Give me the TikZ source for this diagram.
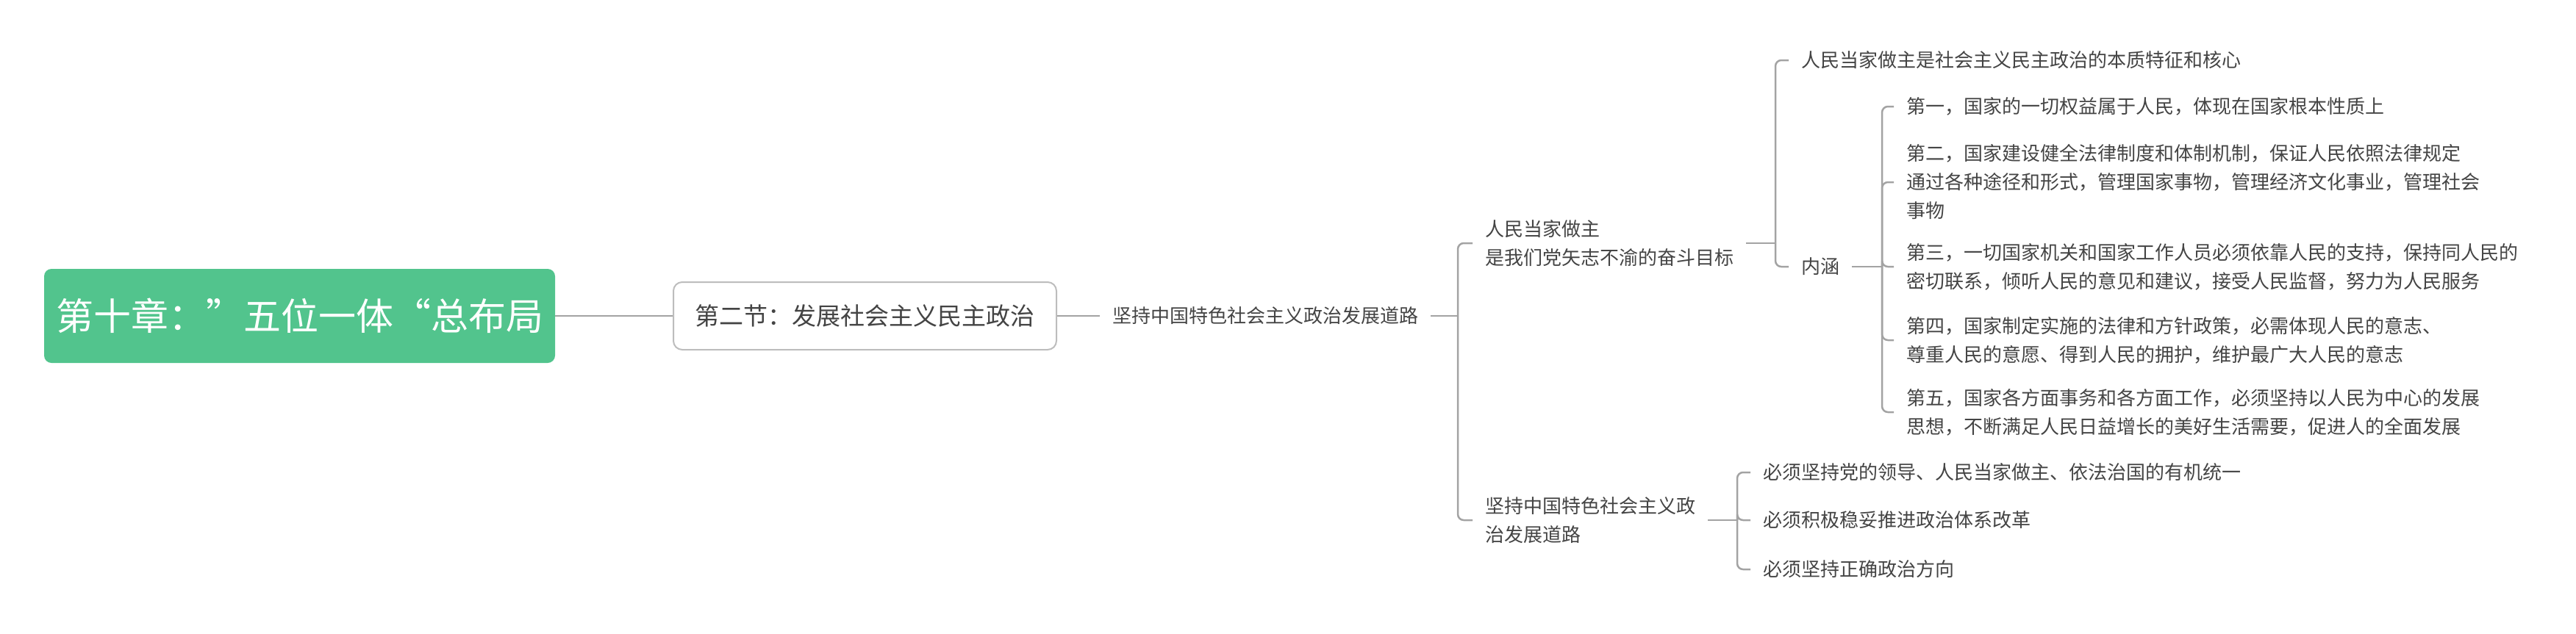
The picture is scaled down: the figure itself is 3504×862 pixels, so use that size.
\documentclass[tikz,border=0pt]{standalone}
\usepackage{fontspec}
\setmainfont{Noto Sans CJK SC}

\definecolor{rootgreen}{HTML}{52C48D}
\definecolor{linkgray}{HTML}{A3A3A3}
\definecolor{boxgray}{HTML}{BDBDBD}
\definecolor{textgray}{HTML}{444444}

\tikzset{
  topic/.style={anchor=west,inner xsep=17pt,inner ysep=3pt,align=left,
    text=textgray,font=\fontsize{26}{39}\selectfont},
  link/.style={draw=linkgray,line width=2.5pt,rounded corners=8pt},
}

\begin{document}
\begin{tikzpicture}[x=1pt,y=-1pt]
  \useasboundingbox (0,0) rectangle (3504,862);
  % chapter and section
  \node[fill=rootgreen,rounded corners=10pt,inner xsep=0pt,minimum width=695pt,minimum height=128pt,
    text=white,font=\fontsize{51}{60}\selectfont] (R) at (407.5,430) {第十章：”五位一体“总布局};
  \node[draw=boxgray,line width=2pt,fill=white,rounded corners=12pt,minimum width=521pt,
    minimum height=92pt,text=textgray,font=\fontsize{33}{40}\selectfont] (S) at (1176.5,430) {第二节：发展社会主义民主政治};
  \node[topic] (road) at (1496,430) {坚持中国特色社会主义政治发展道路};
  \node[topic] (goal) at (2003,331) {人民当家做主\\是我们党矢志不渝的奋斗目标};
  \node[topic] (route) at (2003,708) {坚持中国特色社会主义政\\治发展道路};
  \node[topic] (core) at (2433,82) {人民当家做主是社会主义民主政治的本质特征和核心};
  \node[topic] (neihan) at (2433,363) {内涵};
  % five points
  \node[topic] (item1) at (2576,145) {第一，国家的一切权益属于人民，体现在国家根本性质上};
  \node[topic] (item2) at (2576,248) {第二，国家建设健全法律制度和体制机制，保证人民依照法律规定\\通过各种途径和形式，管理国家事物，管理经济文化事业，管理社会\\事物};
  \node[topic] (item3) at (2576,363) {第三，一切国家机关和国家工作人员必须依靠人民的支持，保持同人民的\\密切联系，倾听人民的意见和建议，接受人民监督，努力为人民服务};
  \node[topic] (item4) at (2576,463) {第四，国家制定实施的法律和方针政策，必需体现人民的意志、\\尊重人民的意愿、得到人民的拥护，维护最广大人民的意志};
  \node[topic] (item5) at (2576,561) {第五，国家各方面事务和各方面工作，必须坚持以人民为中心的发展\\思想，不断满足人民日益增长的美好生活需要，促进人的全面发展};
  \node[topic] (req1) at (2381,643) {必须坚持党的领导、人民当家做主、依法治国的有机统一};
  \node[topic] (req2) at (2381,708) {必须积极稳妥推进政治体系改革};
  \node[topic] (req3) at (2381,775) {必须坚持正确政治方向};

  \coordinate (b1) at (1983,430);
  \coordinate (b2) at (2415,331);
  \coordinate (b3) at (2560,363);
  \coordinate (b4) at (2363,708);

  \draw[link] (R.east) -- (S.west);
  \draw[link] (S.east) -- (road.west);
  \draw[link] (road.east) -- (b1);
  \foreach \n in {goal,route} \draw[link] (b1) |- (\n.west);
  \draw[link] (goal.east) -- (b2);
  \foreach \n in {core,neihan} \draw[link] (b2) |- (\n.west);
  \draw[link] (neihan.east) -- (b3);
  \foreach \n in {1,...,5} \draw[link] (b3) |- (item\n.west);
  \draw[link] (route.east) -- (b4);
  \foreach \n in {1,2,3} \draw[link] (b4) |- (req\n.west);
\end{tikzpicture}
\end{document}
